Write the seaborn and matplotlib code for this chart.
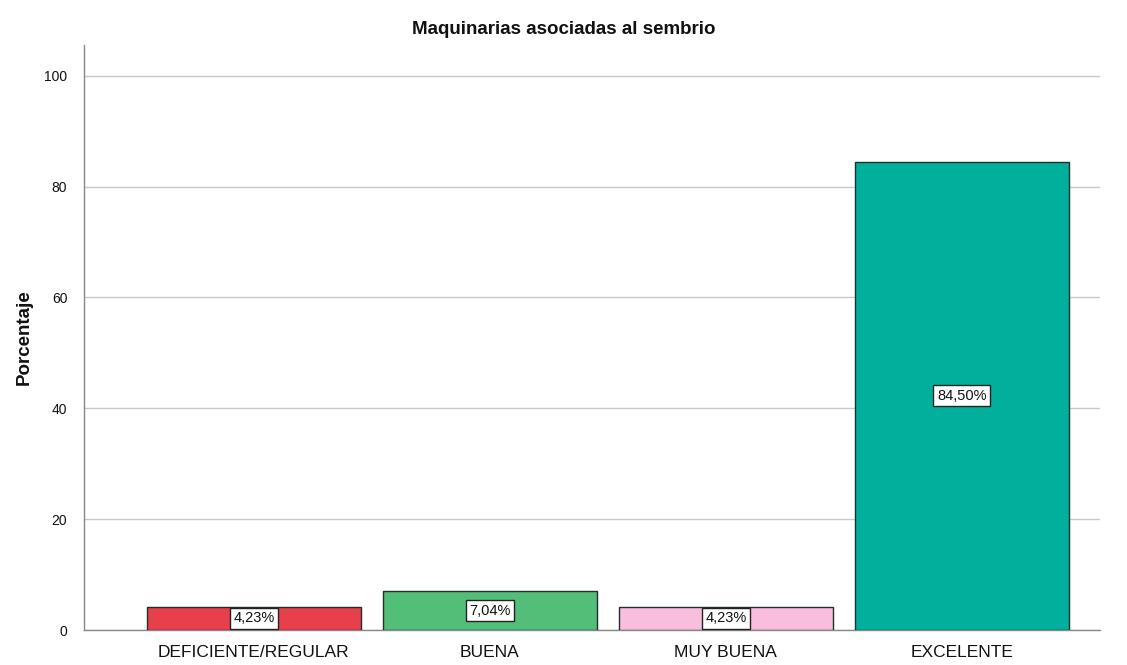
import matplotlib
matplotlib.use("Agg")
import matplotlib.pyplot as plt
import seaborn as sns
import pandas as pd

categories = ["DEFICIENTE/REGULAR", "BUENA", "MUY BUENA", "EXCELENTE"]
values = [4.23, 7.04, 4.23, 84.50]
labels = ["4,23%", "7,04%", "4,23%", "84,50%"]
colors = ["#E8404A", "#52BE78", "#F9BEDD", "#00B09C"]

sns.set_style("white")
plt.rcParams["font.family"] = ["Liberation Sans", "DejaVu Sans"]

df = pd.DataFrame({"cat": categories, "val": values})
fig = plt.figure(figsize=(11.27, 6.65), dpi=100)
ax = fig.add_axes([0.0745, 0.0526, 0.9015, 0.8794])

sns.barplot(data=df, x="cat", y="val", hue="cat", palette=colors, order=categories,
            hue_order=categories, legend=False, width=0.907, edgecolor="#1f2f2a",
            linewidth=1.0, ax=ax, zorder=3, saturation=1)

for p, lab in zip(ax.patches, labels):
    cx = p.get_x() + p.get_width() / 2
    cy = p.get_height() / 2
    ax.text(cx, cy, lab, ha="center", va="center", fontsize=10.5, color="#111111",
            zorder=5, bbox=dict(boxstyle="square,pad=0.25", fc="white", ec="#222222", lw=1.0))

ax.set_ylim(0, 105.5)
ax.set_xlim(-0.72, 3.585)
ax.set_yticks([0, 20, 40, 60, 80, 100])
ax.yaxis.grid(True, color="#c8c8c8", linewidth=1.0, zorder=0)
ax.set_axisbelow(True)
for s in ["top", "right"]:
    ax.spines[s].set_visible(False)
for s in ["left", "bottom"]:
    ax.spines[s].set_color("#888888")
    ax.spines[s].set_linewidth(1.0)
ax.tick_params(axis="y", labelsize=10, colors="#111111", length=0, pad=12)
ax.tick_params(axis="x", labelsize=12.5, colors="#111111", length=0, pad=11)
ax.set_xlabel("")
ax.set_ylabel("Porcentaje", fontsize=13.5, fontweight="bold", labelpad=8, color="#111111")
fig.suptitle("Maquinarias asociadas al sembrio", fontsize=13.5, fontweight="bold",
             x=0.5, y=0.968, color="#111111")

fig.savefig("out.png", dpi=100)
